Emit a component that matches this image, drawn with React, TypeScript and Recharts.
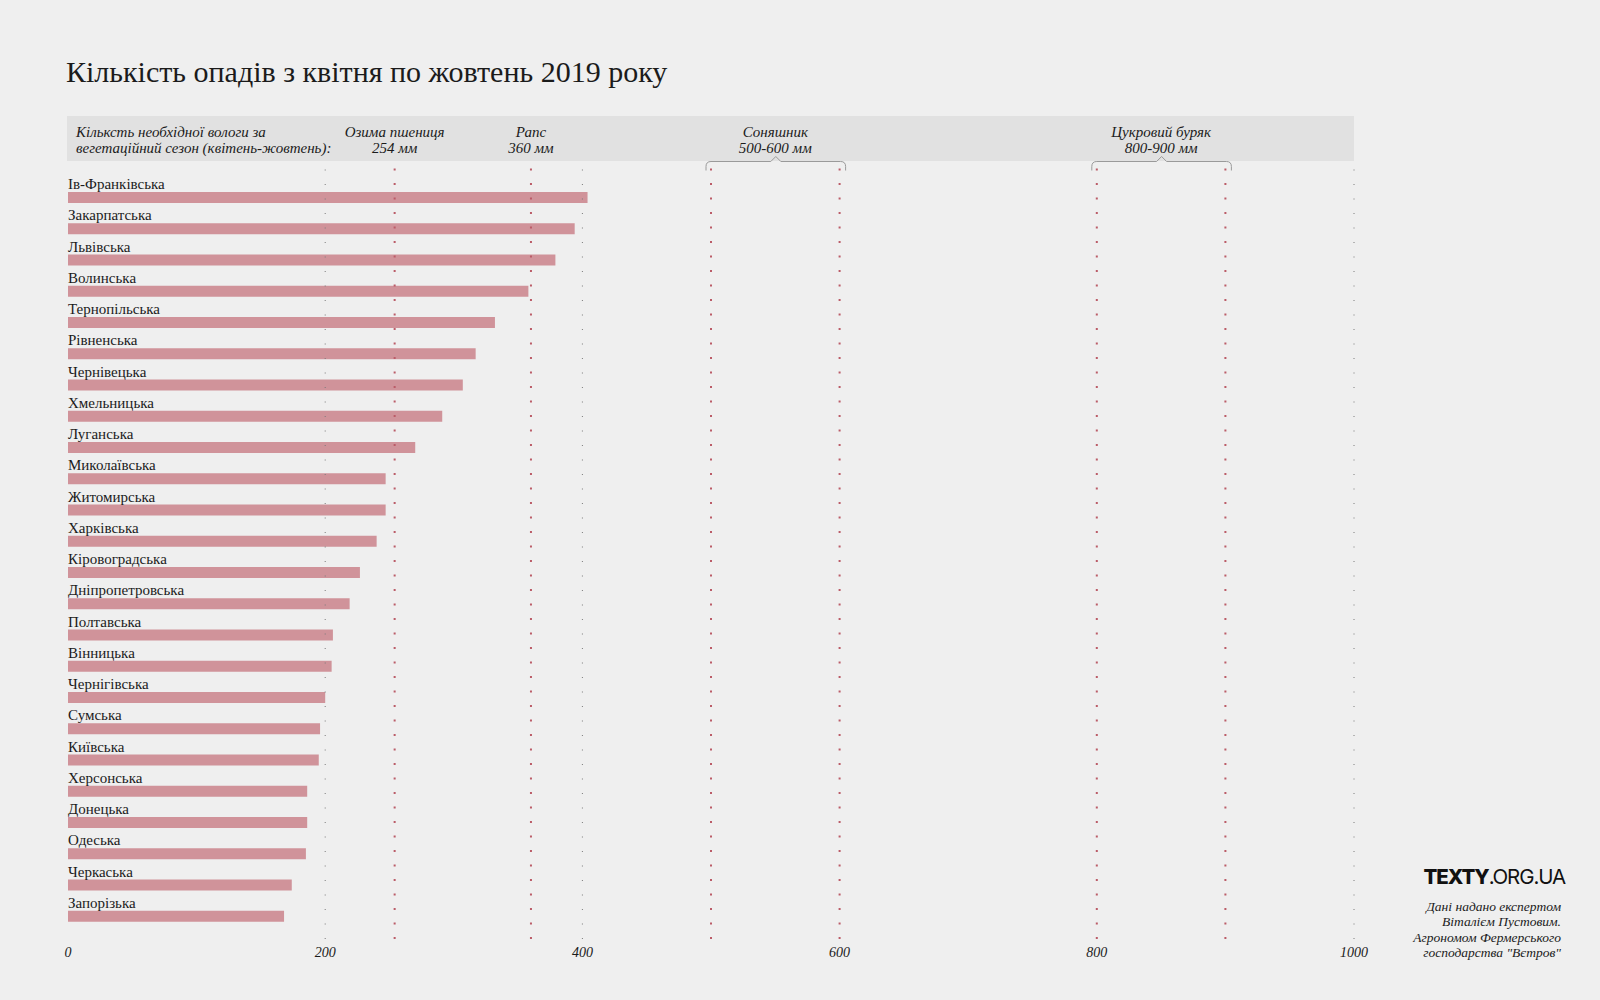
import { BarChart, Bar, XAxis, YAxis, ReferenceLine, ReferenceArea, LabelList } from "recharts";

const REGIONS = [
  "Ів-Франківська",
  "Закарпатська",
  "Львівська",
  "Волинська",
  "Тернопільська",
  "Рівненська",
  "Чернівецька",
  "Хмельницька",
  "Луганська",
  "Миколаївська",
  "Житомирська",
  "Харківська",
  "Кіровоградська",
  "Дніпропетровська",
  "Полтавська",
  "Вінницька",
  "Чернігівська",
  "Сумська",
  "Київська",
  "Херсонська",
  "Донецька",
  "Одеська",
  "Черкаська",
  "Запорізька",
];
const RAINFALL = [404, 394, 379, 358, 332, 317, 307, 291, 270, 247, 247, 240, 227, 219, 206, 205, 200, 196, 195, 186, 186, 185, 174, 168];

const X_TICKS = [0, 200, 400, 600, 800, 1000];
const GRID_MARKS = [200, 400, 1000];

const CROP_NEED = [254, 360];
const CROP_NAMES = ["Озима пшениця", "Рапс"];
const CROP_NOTES = ["254 мм", "360 мм"];

const RANGE_FROM = [500, 800];
const RANGE_TO = [600, 900];
const RANGE_NAMES = ["Соняшник", "Цукровий буряк"];
const RANGE_NOTES = ["500-600 мм", "800-900 мм"];

const SERIF = "'Liberation Serif', 'DejaVu Serif', serif";
const BG = "#efefef";
const BAND = "#e1e1e1";
const BAR = "#d0939a";
const RED_DOT = "#bb5c68";
const TEXT = "#1b1b1b";

// header band geometry (above the plot)
const BAND_TOP = 116;
const BAND_BOTTOM = 161;
const LINE1 = 137;
const LINE2 = 153;
const HEAD_SIZE = 15;

const data = REGIONS.map((name, i) => ({ name, value: RAINFALL[i] }));

function RowLabel(props: any) {
  const { x, y, value } = props;
  return (
    <text x={x} y={y - 3} fontFamily={SERIF} fontSize={15} fill={TEXT}>
      {value}
    </text>
  );
}

function BandShape(props: any) {
  const { x, width } = props;
  return (
    <g>
      <rect x={x - 1} y={BAND_TOP} width={width + 1} height={BAND_BOTTOM - BAND_TOP} fill={BAND} />
      <text x={x + 8} y={LINE1} fontFamily={SERIF} fontStyle="italic" fontSize={HEAD_SIZE} fill={TEXT}>
        Кільксть необхідної вологи за
      </text>
      <text x={x + 8} y={LINE2} fontFamily={SERIF} fontStyle="italic" fontSize={HEAD_SIZE} fill={TEXT}>
        вегетаційний сезон (квітень-жовтень):
      </text>
    </g>
  );
}

function cropLabel(i: number) {
  return (props: any) => {
    const cx = props.viewBox.x;
    return (
      <g>
        <text x={cx} y={LINE1} textAnchor="middle" fontFamily={SERIF} fontStyle="italic" fontSize={HEAD_SIZE} fill={TEXT}>
          {CROP_NAMES[i]}
        </text>
        <text x={cx} y={LINE2} textAnchor="middle" fontFamily={SERIF} fontStyle="italic" fontSize={HEAD_SIZE} fill={TEXT}>
          {CROP_NOTES[i]}
        </text>
      </g>
    );
  };
}

function bracketShape(i: number) {
  return (props: any) => {
    const x0 = props.x - 5;
    const x1 = props.x + props.width + 6;
    const cx = (x0 + x1) / 2;
    const y = BAND_BOTTOM + 0.5;
    const d = `M${x0},${y + 9} L${x0},${y + 5} Q${x0},${y} ${x0 + 5},${y} L${cx - 5},${y} L${cx},${y - 5} L${cx + 5},${y} L${x1 - 5},${y} Q${x1},${y} ${x1},${y + 5} L${x1},${y + 9}`;
    const mid = props.x + props.width / 2;
    return (
      <g>
        <path d={d} fill="none" stroke="#9a9a9a" strokeWidth={1} />
        <text x={mid} y={LINE1} textAnchor="middle" fontFamily={SERIF} fontStyle="italic" fontSize={HEAD_SIZE} fill={TEXT}>
          {RANGE_NAMES[i]}
        </text>
        <text x={mid} y={LINE2} textAnchor="middle" fontFamily={SERIF} fontStyle="italic" fontSize={HEAD_SIZE} fill={TEXT}>
          {RANGE_NOTES[i]}
        </text>
      </g>
    );
  };
}

export default function App() {
  return (
    <div style={{ position: "relative", width: 1600, height: 1000, background: BG, overflow: "hidden" }}>
      <style>{`body{margin:0;background:${BG}}`}</style>
      <div
        style={{
          position: "absolute",
          left: 66,
          top: 57,
          fontFamily: SERIF,
          fontSize: 30,
          lineHeight: "30px",
          color: TEXT,
          whiteSpace: "nowrap",
        }}
      >
        Кількість опадів з квітня по жовтень 2019 року
      </div>

      <BarChart
        width={1600}
        height={1000}
        data={data}
        layout="vertical"
        margin={{ top: 168, right: 246, bottom: 31, left: 68 }}
        barSize={11}
      >
        <XAxis
          type="number"
          domain={[0, 1000]}
          ticks={X_TICKS}
          interval={0}
          axisLine={false}
          tickLine={false}
          tick={{ fontFamily: SERIF, fontStyle: "italic", fontSize: 14, fill: TEXT }}
        />
        <YAxis type="category" dataKey="name" hide padding={{ top: 14, bottom: 7 }} />

        <ReferenceArea x1={0} x2={1000} shape={BandShape} ifOverflow="visible" />
        {RANGE_FROM.map((from, i) => (
          <ReferenceArea key={`br${i}`} x1={from} x2={RANGE_TO[i]} shape={bracketShape(i)} ifOverflow="visible" />
        ))}

        <Bar dataKey="value" fill={BAR} isAnimationActive={false}>
          <LabelList dataKey="name" content={RowLabel} />
        </Bar>

        {GRID_MARKS.map((v) => (
          <ReferenceLine key={`g${v}`} x={v} stroke="#7a7a7a" strokeWidth={1} strokeDasharray="1 13.5" ifOverflow="visible" />
        ))}
        {CROP_NEED.map((v, i) => (
          <ReferenceLine
            key={`c${v}`}
            x={v}
            stroke={RED_DOT}
            strokeWidth={2}
            strokeDasharray="2 12.5"
            label={cropLabel(i)}
          />
        ))}
        {RANGE_FROM.concat(RANGE_TO).map((v) => (
          <ReferenceLine key={`r${v}`} x={v} stroke={RED_DOT} strokeWidth={2} strokeDasharray="2 12.5" />
        ))}
      </BarChart>

      <div
        style={{
          position: "absolute",
          right: 35,
          top: 866,
          fontFamily: "Inter, Roboto, sans-serif",
          fontSize: 20.5,
          lineHeight: "22px",
          color: "#111",
          letterSpacing: -1.1,
          whiteSpace: "nowrap",
        }}
      >
        <span style={{ fontWeight: 800 }}>TEXTY</span>
        <span style={{ fontWeight: 400 }}>.ORG.UA</span>
      </div>
      <div
        style={{
          position: "absolute",
          right: 39,
          top: 899,
          fontFamily: SERIF,
          fontStyle: "italic",
          fontSize: 13.5,
          lineHeight: "15.3px",
          color: TEXT,
          textAlign: "right",
          whiteSpace: "nowrap",
        }}
      >
        Дані надано експертом
        <br />
        Віталієм Пустовим.
        <br />
        Агрономом Фермерського
        <br />
        господарства "Вєтров"
      </div>
    </div>
  );
}
